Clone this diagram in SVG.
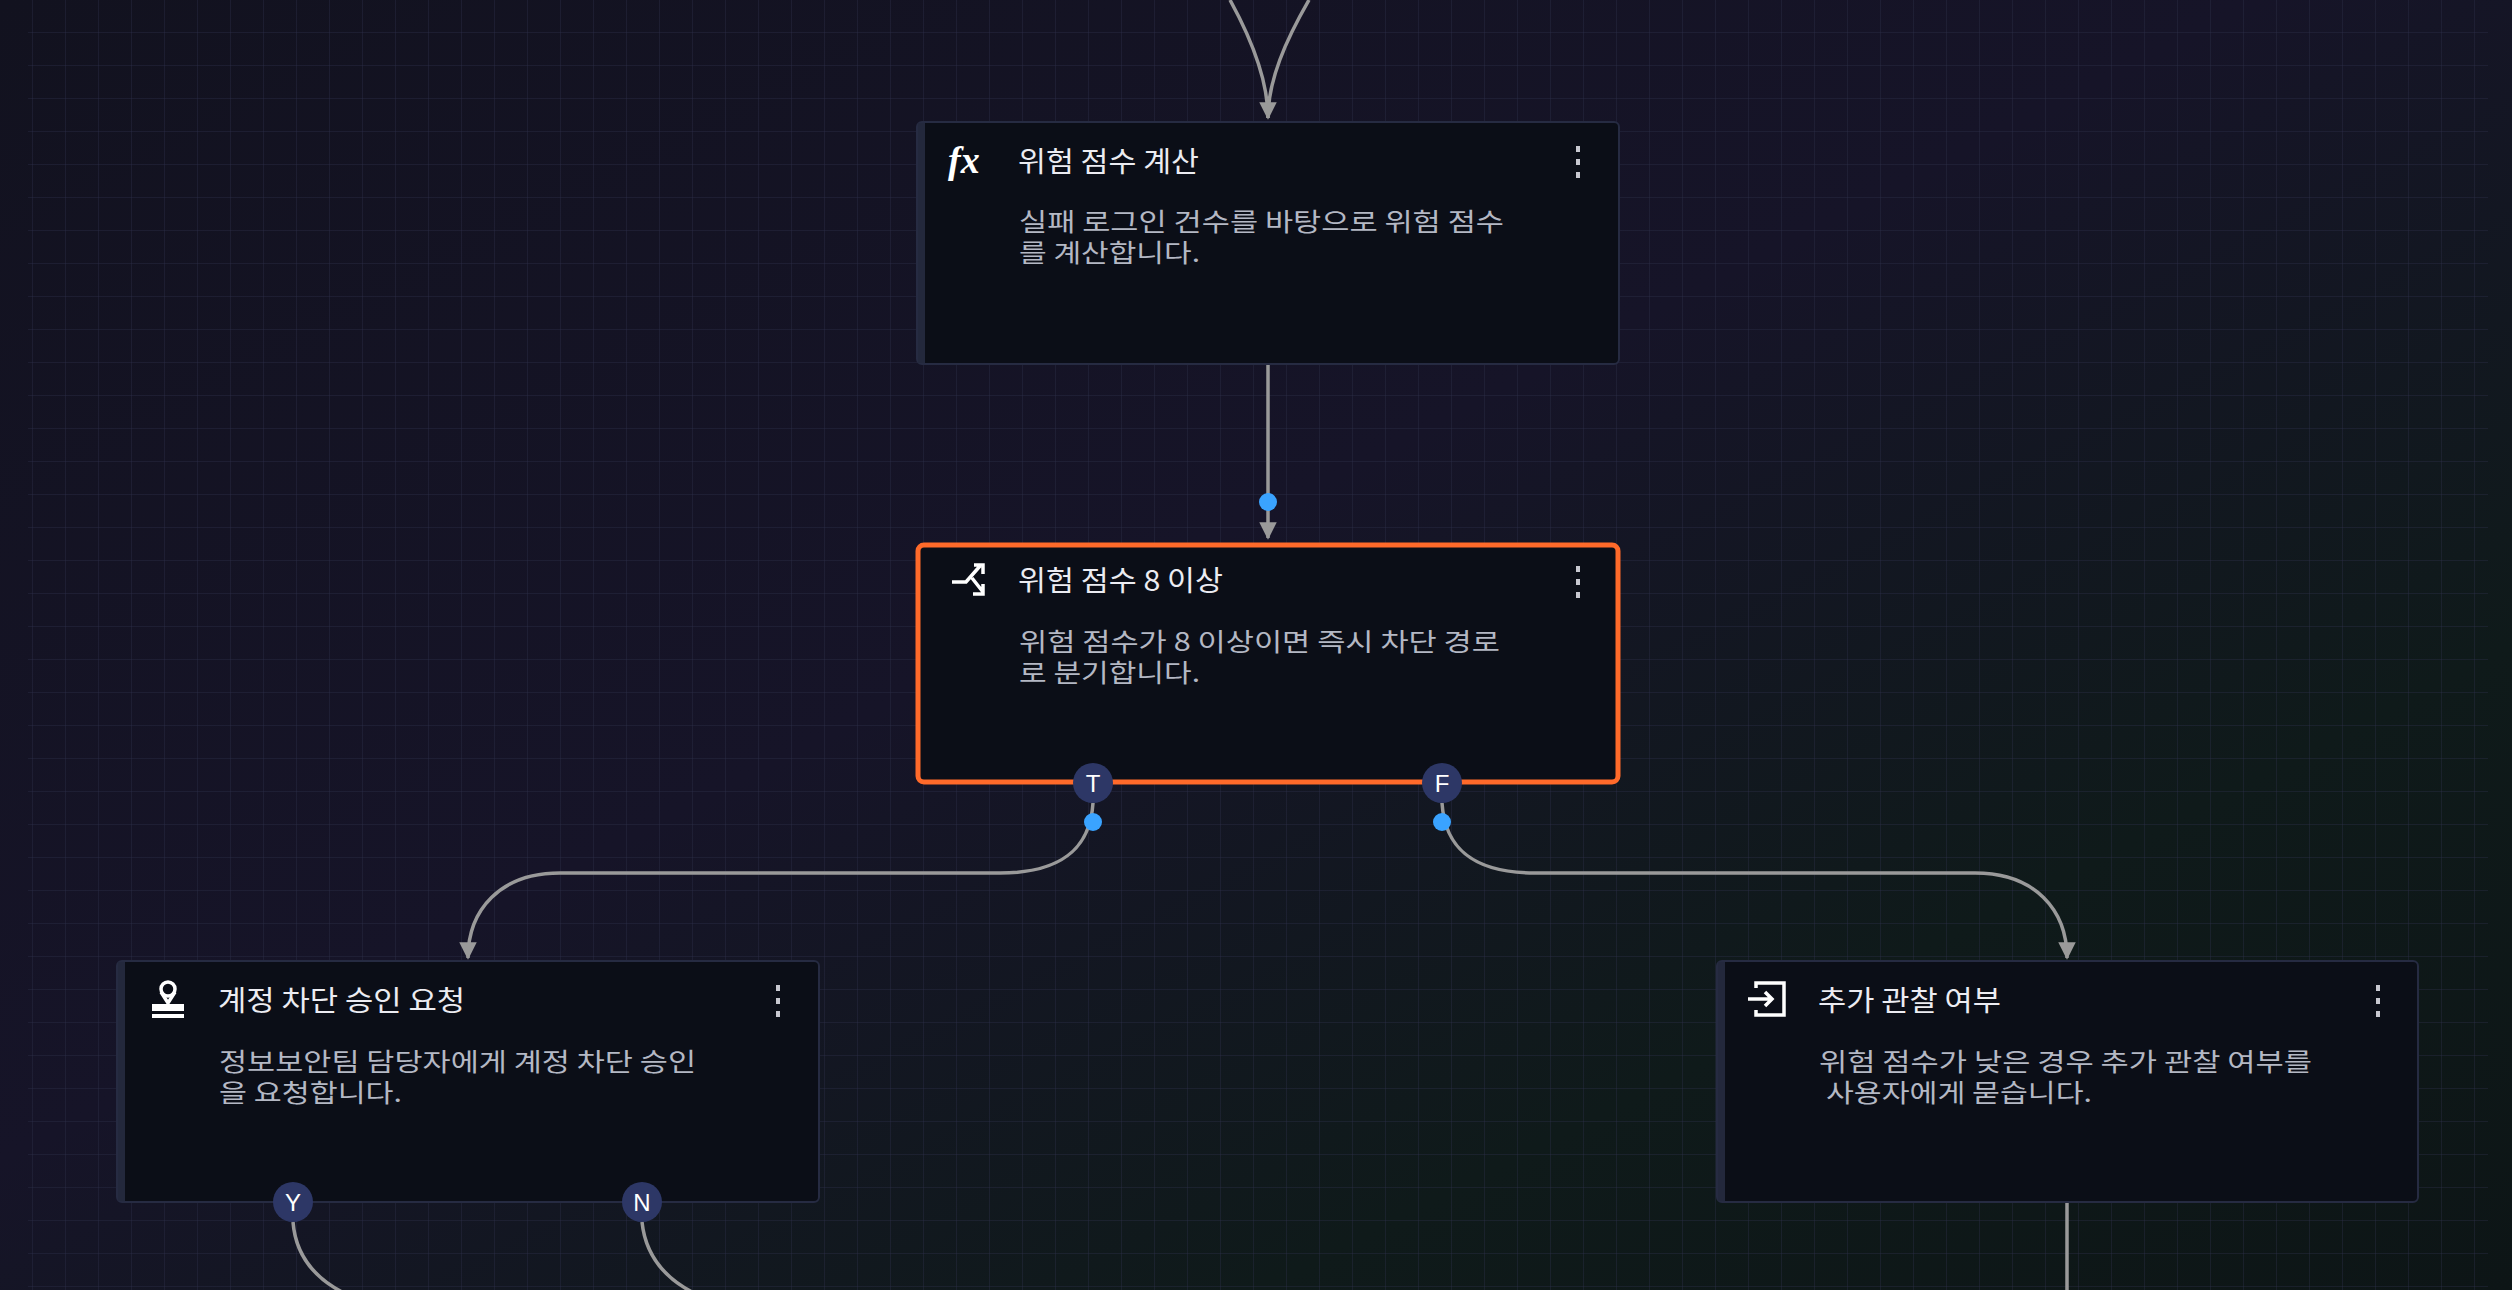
<svg xmlns="http://www.w3.org/2000/svg" width="2512" height="1290" viewBox="0 0 2512 1290">
<defs>
<linearGradient id="bg" x1="0" y1="0" x2="1" y2="1">
<stop offset="0" stop-color="#12121f"/><stop offset="0.45" stop-color="#161428"/><stop offset="0.75" stop-color="#0f1a1a"/><stop offset="1" stop-color="#0d1516"/>
</linearGradient>
<pattern id="grid" width="33" height="33" patternUnits="userSpaceOnUse">
<path d="M33 0V33M0 33H33" fill="none" stroke="#2c2f4a" stroke-width="1" opacity="0.75"/>
</pattern>
<marker id="arr" viewBox="0 0 10 10" refX="9" refY="5" markerWidth="5" markerHeight="5" orient="auto" markerUnits="strokeWidth">
<path d="M0 0L10 5L0 10Z" fill="#9a9a9a"/>
</marker>
<style>
.card{fill:#0b0e17;stroke:#262b42;stroke-width:2}
.bar{fill:#23283c}
.title{font-family:"Noto Sans CJK KR","Noto Sans",sans-serif;font-size:28px;fill:#ececf2}
.desc{font-family:"Noto Sans CJK KR","Noto Sans",sans-serif;font-size:25px;fill:#b4b8c4}
.kebab{fill:#c8c8d0}
.edge{fill:none;stroke:#9a9a9a;stroke-width:3.5}
.h{fill:#2d3766}
.hl{font-family:"Liberation Sans",sans-serif;font-size:24px;fill:#ffffff;text-anchor:middle}
.dot{fill:#3aa3ff}
.ico{fill:none;stroke:#fff;stroke-width:3.5}
</style>
</defs>
<rect width="2512" height="1290" fill="url(#bg)"/>
<rect x="28" y="0" width="2460" height="1290" fill="url(#grid)"/>

<g id="connectors">
<path class="edge" d="M1230 0C1252 40 1268 80 1268 118" marker-end="url(#arr)"/>
<path class="edge" d="M1309 0C1286 40 1268 80 1268 118"/>
<path class="edge" d="M1268 364V538" marker-end="url(#arr)"/>
<circle class="dot" cx="1268" cy="502" r="9"/>
<path class="edge" d="M1093 803C1090 850 1060 873 1000 873H560C500 873 468 910 468 958" marker-end="url(#arr)"/>
<path class="edge" d="M1442 803C1445 850 1475 873 1535 873H1975C2035 873 2067 910 2067 958" marker-end="url(#arr)"/>
<circle class="dot" cx="1093" cy="822" r="9"/>
<circle class="dot" cx="1442" cy="822" r="9"/>
<path class="edge" d="M293 1222C296 1260 320 1285 360 1300"/>
<path class="edge" d="M642 1222C646 1260 670 1285 710 1300"/>
<path class="edge" d="M2067 1202V1290"/>
</g>

<g id="node-calc">
<rect class="card" x="917" y="122" width="702" height="242" rx="5"/>
<rect class="bar" x="918" y="123" width="7" height="240"/>
<text x="948" y="173" font-family="Liberation Serif,serif" font-style="italic" font-weight="bold" font-size="38" fill="#fff">fx</text>
<text class="title" x="1018" y="172" textLength="181" lengthAdjust="spacingAndGlyphs">위험 점수 계산</text>
<text class="desc" x="1019" y="231" textLength="485" lengthAdjust="spacingAndGlyphs">실패 로그인 건수를 바탕으로 위험 점수</text>
<text class="desc" x="1019" y="262" textLength="181" lengthAdjust="spacingAndGlyphs">를 계산합니다.</text>
<g class="kebab"><rect x="1576" y="146" width="4" height="6"/><rect x="1576" y="159" width="4" height="6"/><rect x="1576" y="172" width="4" height="6"/></g>
</g>

<g id="node-branch">
<rect x="918" y="545" width="700" height="237" rx="6" fill="#0b0e17" stroke="#ff6a2a" stroke-width="5"/>
<path class="ico" d="M952 582H966L980 566M974 565H983V574M972 578L983 592M983 584V594H973"/>
<text class="title" x="1018" y="591" textLength="205" lengthAdjust="spacingAndGlyphs">위험 점수 8 이상</text>
<text class="desc" x="1019" y="651" textLength="481" lengthAdjust="spacingAndGlyphs">위험 점수가 8 이상이면 즉시 차단 경로</text>
<text class="desc" x="1019" y="682" textLength="181" lengthAdjust="spacingAndGlyphs">로 분기합니다.</text>
<g class="kebab"><rect x="1576" y="566" width="4" height="6"/><rect x="1576" y="579" width="4" height="6"/><rect x="1576" y="592" width="4" height="6"/></g>
<circle class="h" cx="1093" cy="783" r="20"/><text class="hl" x="1093" y="792">T</text>
<circle class="h" cx="1442" cy="783" r="20"/><text class="hl" x="1442" y="792">F</text>
</g>

<g id="node-approval">
<rect class="card" x="117" y="961" width="702" height="241" rx="5"/>
<rect class="bar" x="118" y="962" width="7" height="239"/>
<path d="M168 982a7 7 0 0 1 0 14l0 0a7 7 0 0 1 0-14z" class="ico" stroke-width="3"/>
<path d="M161 992L168 1003L175 992" class="ico" stroke-width="3"/>
<rect x="152" y="1004" width="32" height="14" fill="#fff"/>
<rect x="152" y="1011" width="32" height="3" fill="#0b0e17"/>
<text class="title" x="218" y="1011" textLength="247" lengthAdjust="spacingAndGlyphs">계정 차단 승인 요청</text>
<text class="desc" x="219" y="1071" textLength="477" lengthAdjust="spacingAndGlyphs">정보보안팀 담당자에게 계정 차단 승인</text>
<text class="desc" x="219" y="1102" textLength="183" lengthAdjust="spacingAndGlyphs">을 요청합니다.</text>
<g class="kebab"><rect x="776" y="985" width="4" height="6"/><rect x="776" y="998" width="4" height="6"/><rect x="776" y="1011" width="4" height="6"/></g>
<circle class="h" cx="293" cy="1202" r="20"/><text class="hl" x="293" y="1211">Y</text>
<circle class="h" cx="642" cy="1202" r="20"/><text class="hl" x="642" y="1211">N</text>
</g>

<g id="node-observe">
<rect class="card" x="1717" y="961" width="701" height="241" rx="5"/>
<rect class="bar" x="1718" y="962" width="7" height="239"/>
<path class="ico" d="M1756 988V983H1784V1015H1756V1010M1748 999H1772M1765 992L1772 999L1765 1006"/>
<text class="title" x="1818" y="1011" textLength="183" lengthAdjust="spacingAndGlyphs">추가 관찰 여부</text>
<text class="desc" x="1819" y="1071" textLength="493" lengthAdjust="spacingAndGlyphs">위험 점수가 낮은 경우 추가 관찰 여부를</text>
<text class="desc" x="1826" y="1102" textLength="266" lengthAdjust="spacingAndGlyphs">사용자에게 묻습니다.</text>
<g class="kebab"><rect x="2376" y="985" width="4" height="6"/><rect x="2376" y="998" width="4" height="6"/><rect x="2376" y="1011" width="4" height="6"/></g>
</g>
</svg>
